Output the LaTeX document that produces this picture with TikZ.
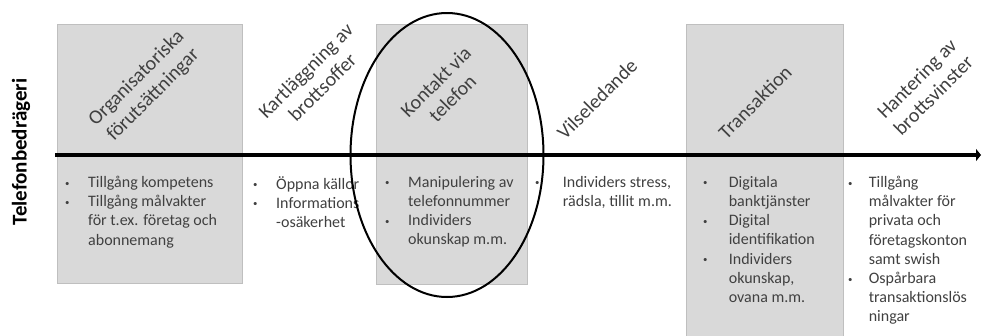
\documentclass[tikz,border=0pt]{standalone}
\usepackage{fontspec}
\setmainfont{Carlito}
\usetikzlibrary{arrows.meta,shapes.geometric}
\definecolor{boxgray}{HTML}{D9D9D9}
\definecolor{edgegray}{HTML}{BFBFBF}
\definecolor{textgray}{HTML}{404040}
\newcommand{\bul}{\raisebox{0.2ex}{\scalebox{0.55}{\textbullet}}}
\newcommand{\itm}[1][23pt]{\makebox[#1][l]{\bul}}
\newcommand{\cnt}[1][23pt]{\hspace*{#1}}

\begin{document}
\begin{tikzpicture}[x = 1pt, y = -1pt,
  phase/.style = {draw = edgegray, fill = boxgray, anchor = north west, inner sep = 0},
  head/.style = {rotate = 45, align = center, text = textgray, font = \fontsize{20}{23.5}\selectfont},
  items/.style = {anchor = north west, inner sep = 0, align = left, text = textgray, font = \fontsize{16}{19.2}\selectfont}]
\useasboundingbox (0,0) rectangle (982,335);
% shaded phases
\node[phase, minimum width = 185pt, minimum height = 259pt] (org box) at (57,24) {};
\node[phase, minimum width = 151pt, minimum height = 260pt] (kontakt box) at (376,24) {};
\node[phase, minimum width = 157pt, minimum height = 320pt] (trans box) at (686,24) {};
% headings
\node[head] (org) at (145,87) {Organisatoriska\\förutsättningar};
\node[head] (kart) at (314,79) {Kartläggning av\\brottsoffer};
\node[head] (kontakt) at (444,90) {Kontakt via\\telefon};
\node[head] (vils) at (597,99) {Vilseledande};
\node[head] (trans) at (755,102) {Transaktion};
\node[head] (hant) at (925,87) {Hantering av\\brottsvinster};
% lists
\node[items] (org list) at (65,176) {\itm Tillgång kompetens\\ \itm Tillgång målvakter\\ \cnt för t.ex. företag och\\ \cnt abonnemang};
\node[items] (kart list) at (253,176) {\itm Öppna källor\\ \itm Informations\\ \cnt -osäkerhet};
\node[items] (kontakt list) at (385,176) {\itm Manipulering av\\ \cnt telefonnummer\\ \itm Individers\\ \cnt okunskap m.m.};
\node[items] (vils list) at (535,176) {\itm[24pt] Individers stress,\\ \cnt[24pt] rädsla, tillit m.m.};
\node[items] (trans list) at (703,176) {\itm[22pt] Digitala\\ \cnt[22pt] banktjänster\\ \itm[22pt] Digital\\ \cnt[22pt] identifikation\\ \itm[22pt] Individers\\ \cnt[22pt] okunskap,\\ \cnt[22pt] ovana m.m.};
\node[items] (hant list) at (848,176) {\itm[17pt] Tillgång\\ \cnt[17pt] målvakter för\\ \cnt[17pt] privata och\\ \cnt[17pt] företagskonton\\ \cnt[17pt] samt swish\\ \itm[17pt] Ospårbara\\ \cnt[17pt] transaktionslös\\ \cnt[17pt] ningar};
\node[rotate = 90, font = \fontsize{21}{24}\selectfont\bfseries] (title) at (21,152) {Telefonbedrägeri};
% time line
\coordinate (start) at (55,155);
\coordinate (end) at (981,155);
\draw[line width = 3.5pt, -{Triangle[length = 5pt, width = 12pt]}] (start) -- (end);
\node[draw, ellipse, line width = 2pt, minimum width = 193pt, minimum height = 284pt, inner sep = 0] (focus) at (447,155) {};
\end{tikzpicture}
\end{document}
